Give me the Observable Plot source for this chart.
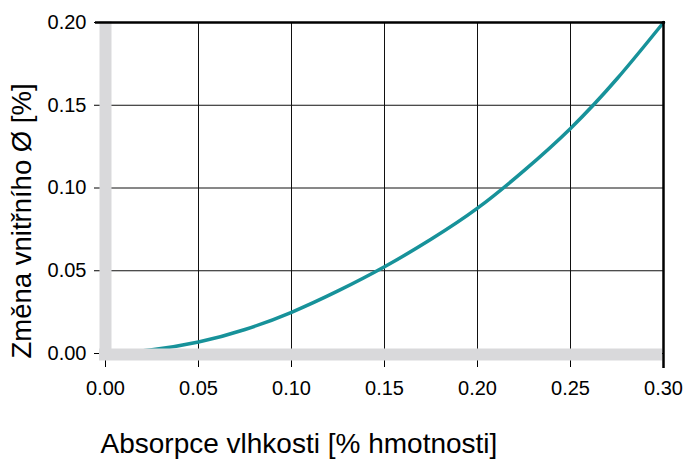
<!DOCTYPE html>
<html>
<head>
<meta charset="utf-8">
<script src="https://cdn.jsdelivr.net/npm/d3@7"></script>
<script src="https://cdn.jsdelivr.net/npm/@observablehq/plot@0.6"></script>
<style>
  html, body { margin: 0; padding: 0; background: #fff; }
  #chart { width: 687px; height: 460px; }
</style>
</head>
<body>
<div id="chart"></div>
<script>
// Data
const moistureAbsorption = [0.0, 0.025, 0.05, 0.075, 0.10, 0.125, 0.15, 0.175, 0.20, 0.225, 0.25, 0.275, 0.30];
const diameterChange     = [0.0, 0.0023, 0.0069, 0.0145, 0.0249, 0.0378, 0.0524, 0.069, 0.0878, 0.1105, 0.136, 0.166, 0.200];
const xTicks = [0, 0.05, 0.10, 0.15, 0.20, 0.25, 0.30];
const yTicks = [0, 0.05, 0.10, 0.15, 0.20];
const xLabel = "Absorpce vlhkosti [% hmotnosti]";
const yLabel = "Změna vnitřního Ø [%]";

const data = moistureAbsorption.map((x, i) => ({x, y: diameterChange[i]}));

const teal = "#17929a";
const band = "#d9d9db";
const fmt = d3.format(".2f");

const chart = Plot.plot({
  width: 687,
  height: 460,
  marginLeft: 105,
  marginRight: 24,
  marginTop: 22,
  marginBottom: 107,
  style: {fontFamily: "'Liberation Sans', Arial, Helvetica, sans-serif", color: "#000", background: "#fff"},
  x: {domain: [0, 0.30]},
  y: {domain: [0, 0.20]},
  marks: [
    Plot.gridX(xTicks, {stroke: "#111", strokeOpacity: 1, strokeWidth: 1}),
    Plot.gridY(yTicks, {stroke: "#111", strokeOpacity: 1, strokeWidth: 1}),
    Plot.line(data, {x: "x", y: "y", stroke: teal, strokeWidth: 3.5, curve: "natural"}),
    Plot.axisX(xTicks, {tickFormat: fmt, tickSize: 14, tickPadding: 13, fontSize: 20, label: null, stroke: "#000"}),
    Plot.axisY(yTicks, {tickFormat: fmt, tickSize: 11, tickPadding: 8, fontSize: 20, label: null, stroke: "#000"}),
    Plot.ruleX([0], {y1: 0.20, y2: 0, stroke: band, strokeWidth: 12, insetBottom: -7, insetTop: -1}),
    Plot.ruleY([0], {x1: 0, x2: 0.30, stroke: band, strokeWidth: 12, insetLeft: -6, insetRight: 1, dy: 1}),
    Plot.ruleY([0.20], {x1: 0, x2: 0.30, stroke: "#000", strokeWidth: 2.5, insetLeft: -10, insetRight: -2}),
    Plot.ruleX([0.30], {y1: 0.20, y2: 0, stroke: "#000", strokeWidth: 2.5, insetBottom: -15, insetTop: -1}),
    Plot.text([xLabel], {frameAnchor: "bottom-left", dx: -5, dy: 99, textAnchor: "start", lineAnchor: "bottom", fontSize: 28, fill: "#000"}),
    Plot.text([yLabel], {frameAnchor: "bottom-left", dx: -83, dy: 5, rotate: -90, textAnchor: "start", lineAnchor: "middle", fontSize: 27.5, fill: "#000"})
  ]
});
document.getElementById("chart").appendChild(chart);
</script>
</body>
</html>
